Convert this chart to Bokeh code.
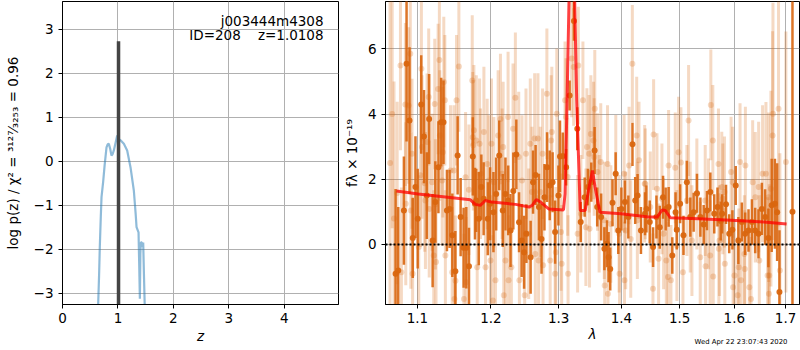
from bokeh.plotting import figure
from bokeh.layouts import row
from bokeh.models import Range1d, FixedTicker, PrintfTickFormatter, Label, Span, Title
from bokeh.embed import file_html
from bokeh.resources import INLINE

# ---------------- left panel: p(z) ----------------
z_grid = [0.640, 0.660, 0.673, 0.690, 0.704, 0.734, 0.760, 0.794, 0.815, 0.836,
          0.860, 0.884, 0.905, 0.926, 0.955, 0.987, 1.015, 1.047, 1.107, 1.167,
          1.227, 1.287, 1.320, 1.336, 1.372, 1.385, 1.396, 1.405, 1.414, 1.430,
          1.440, 1.456, 1.470, 1.486]
log_pz = [-3.40, -2.60, -1.96, -1.30, -0.82, -0.47, -0.10, 0.31, 0.38, 0.39,
          0.28, 0.125, 0.16, 0.24, 0.40, 0.58, 0.50, 0.47, 0.39, 0.24,
          -0.14, -0.67, -1.20, -1.50, -1.62, -2.40, -3.13, -2.10, -1.85, -1.85,
          -1.95, -1.85, -2.60, -3.40]
z_best = 1.0108
z_best_top = 2.72
z_ticks = [0, 1, 2, 3, 4]
logp_ticks = [-3, -2, -1, 0, 1, 2, 3]

# ---------------- right panel: spectrum ----------------
wave_light = [1.0650, 1.0677, 1.0700, 1.0740, 1.0782, 1.0794, 1.0845, 1.0850, 1.0887, 1.0908,
              1.0915, 1.0930, 1.0938, 1.1018, 1.1039, 1.1052, 1.1061, 1.1096, 1.1105, 1.1127,
              1.1148, 1.1155, 1.1193, 1.1215, 1.1228, 1.1237, 1.1245, 1.1273, 1.1290, 1.1296,
              1.1327, 1.1336, 1.1349, 1.1363, 1.1370, 1.1439, 1.1462, 1.1485, 1.1492, 1.1507,
              1.1521, 1.1553, 1.1622, 1.1645, 1.1652, 1.1691, 1.1737, 1.1744, 1.1751,
              1.1760, 1.1793, 1.1806, 1.1839, 1.1853, 1.1900, 1.1923, 1.1946, 1.1970, 1.1993,
              1.2007, 1.2027, 1.2041, 1.2064, 1.2102, 1.2135, 1.2159, 1.2174, 1.2183, 1.2207,
              1.2245, 1.2252, 1.2293, 1.2317, 1.2351, 1.2400, 1.2410, 1.2448, 1.2488, 1.2507,
              1.2547, 1.2571, 1.2596, 1.2636, 1.2646, 1.2685, 1.2695, 1.2720, 1.2755, 1.2762,
              1.2820, 1.2870, 1.2885, 1.2895, 1.2946, 1.2956, 1.2971,
              1.3036, 1.3046, 1.3098, 1.3113, 1.3139, 1.3145, 1.3201, 1.3232, 1.3294, 1.3305,
              1.3346, 1.3378, 1.3425, 1.3441, 1.3477, 1.3483, 1.3504, 1.3546, 1.3557, 1.3567,
              1.3610, 1.3637, 1.3663, 1.3720, 1.3727, 1.3773, 1.3780, 1.3827, 1.3908, 1.3962,
              1.3970, 1.4045, 1.4052, 1.4072, 1.4128, 1.4156, 1.4183, 1.4256, 1.4267, 1.4295,
              1.4391,
              1.4402, 1.4487, 1.4533, 1.4544, 1.4602, 1.4630, 1.4688, 1.4717, 1.4764, 1.4793,
              1.4804, 1.4845, 1.4921, 1.4950, 1.4980, 1.5021, 1.5057, 1.5128, 1.5158, 1.5188,
              1.5218, 1.5307, 1.5368, 1.5459, 1.5466, 1.5520, 1.5550, 1.5562, 1.5599, 1.5606,
              1.5703, 1.5710, 1.5722, 1.5765,
              1.5784, 1.5815, 1.5822, 1.5939, 1.5970, 1.5977, 1.6002, 1.6065, 1.6084, 1.6109,
              1.6128, 1.6192, 1.6199, 1.6211, 1.6287, 1.6319, 1.6351, 1.6402, 1.6467, 1.6480,
              1.6544, 1.6610, 1.6642, 1.6662, 1.6669, 1.6675, 1.6708, 1.6741, 1.6748, 1.6859,
              1.6886, 1.7006]
flux_light = [2.50, 4.00, 0.80, 1.58, 5.49, -0.85, 4.29, 1.25, 4.26, 5.85,
              1.04, 2.78, -0.90, -0.08, 2.12, 5.39, 2.99, 1.88, 1.35, 3.14,
              4.52, 1.09, 1.91, -0.34, 4.31, 1.23, -0.54, 4.77, 5.66, 3.34,
              1.96, 2.83, 4.98, 4.42, -0.34, 2.27, -0.85, 2.27, -1.67, -1.11,
              4.42, 5.46, -1.67, 2.06, -1.16, 1.68, 5.03, 3.29, 3.04,
              3.50, 3.19, -0.70, 3.09, 2.17, 3.45, -0.70, 2.47, 1.96, -0.49,
              3.09, -1.72, 1.91, -1.10, 3.34, 3.85, 2.17, 2.99, -1.56, -0.49,
              3.91, -1.10, -0.70, 3.55, 4.50, 2.68, -1.10, 1.96, -1.56, 2.78,
              0.33, 3.09, 1.61, 3.25, -0.29, 3.25, -0.49, 1.61, 2.78, -0.64,
              4.62, -0.49, 3.19, 3.45, -0.90, -0.24, 4.01,
              0.38, -0.59, 4.42, 3.91, 2.07, -0.90, 5.70, 5.44, 0.33, 5.49,
              0.94, 4.42, 0.53, 2.99, 2.78, 0.48, 3.39, 3.19, 2.68, 4.16,
              2.22, 0.94, 2.53, 0.74, -1.26, 2.47, -1.51, 0.63, 2.17, 0.33,
              -0.90, 2.17, -1.10, 0.43, 2.42, 0.17, 5.54, 3.34, 0.74, 2.58,
              1.86,
              1.86, 1.15, -1.36, 3.37, 1.71, -0.44, 1.40, 0.33, -0.49, -1.00,
              2.42, -1.10, 2.35, -0.03, 2.83, 2.51, -0.85, 1.35, 3.80, 0.84,
              0.12, 1.55, -0.39, 1.35, -0.67, 0.94, -0.34, 4.28, 3.19, -0.98,
              2.47, -0.13, 0.12, 1.76,
              1.40, 1.61, -0.59, 2.22, 1.91, -1.31, -0.95, -1.56, -0.70, 2.53,
              -1.10, -0.29, -0.75, 2.42, -1.31, -1.67, 1.91, 1.45, 1.76, -0.49,
              2.17, 2.17, -0.95, 1.45, -1.51, -0.95, 1.71, 3.34, 4.01, 4.16,
              -0.80, 2.53]
err_light = [5.0, 3.5, 4.2, 2.8, 2.6, 2.6, 2.5, 2.5, 2.4, 2.4,
             2.4, 2.3, 2.3, 2.2, 2.2, 2.2, 2.2, 2.1, 2.1, 2.1,
             2.1, 2.1, 2.1, 2.0, 2.0, 2.0, 2.0, 2.0, 2.0, 2.0,
             2.0, 2.0, 2.0, 2.0, 2.0, 2.0, 2.0, 2.0, 2.0, 2.0,
             2.0, 2.0, 2.0, 2.0, 2.0, 2.0, 2.0, 2.0, 2.0,
             2.0, 2.0, 2.0, 2.0, 2.0, 2.0, 2.0, 2.0, 2.0, 2.0,
             2.0, 2.0, 2.0, 2.0, 2.0, 2.0, 2.0, 2.0, 2.0, 2.0,
             2.0, 2.0, 2.0, 2.0, 2.0, 2.0, 2.0, 2.0, 2.0, 2.0,
             2.0, 2.0, 2.0, 2.0, 2.0, 2.0, 2.0, 2.0, 2.0, 2.0,
             2.0, 2.0, 2.0, 2.0, 2.0, 2.0, 2.0,
             1.8, 1.8, 1.8, 1.8, 1.8, 1.8, 1.8, 1.8, 1.8, 1.8,
             1.8, 1.8, 1.8, 1.8, 1.8, 1.8, 1.8, 1.8, 1.8, 1.8,
             1.8, 1.8, 1.8, 1.8, 1.8, 1.8, 1.8, 1.8, 1.8, 1.8,
             1.8, 1.8, 1.8, 1.8, 1.8, 1.8, 1.8, 1.8, 1.8, 1.8,
             1.8,
             1.7, 1.7, 1.7, 1.7, 1.7, 1.7, 1.7, 1.7, 1.7, 1.7,
             1.7, 1.7, 1.7, 1.7, 1.7, 1.7, 1.7, 1.7, 1.7, 1.7,
             1.7, 1.7, 1.7, 1.7, 1.7, 1.7, 1.7, 1.7, 1.7, 1.7,
             1.7, 1.7, 1.7, 1.7,
             1.7, 1.7, 1.7, 1.7, 1.7, 1.7, 1.7, 1.8, 1.8, 1.8,
             1.8, 1.8, 1.8, 1.8, 1.9, 1.9, 1.9, 2.0, 2.0, 2.0,
             2.1, 2.2, 2.4, 2.6, 2.6, 2.8, 3.0, 3.2, 3.4, 3.6,
             3.6, 4.0]

wave_dark = [1.0720, 1.0754, 1.0826, 1.0860, 1.0898, 1.0940, 1.0975, 1.1004, 1.1050, 1.1086,
             1.1123, 1.1154, 1.1200, 1.1236, 1.1277, 1.1314, 1.1345, 1.1391, 1.1427, 1.1464,
             1.1505, 1.1536, 1.1577, 1.1618, 1.1655, 1.1692, 1.1745, 1.1775, 1.1792, 1.1828,
             1.1864, 1.1896, 1.1955, 1.1987, 1.2035, 1.2074, 1.2118, 1.2168, 1.2207, 1.2247,
             1.2281, 1.2321, 1.2365, 1.2405, 1.2443, 1.2479, 1.2513, 1.2576, 1.2612, 1.2650,
             1.2700, 1.2739, 1.2783, 1.2823, 1.2863, 1.2907, 1.2945, 1.2996, 1.3020, 1.3063,
             1.3115, 1.3169, 1.3237, 1.3289, 1.3343, 1.3406, 1.3458, 1.3511, 1.3564, 1.3606,
             1.3669, 1.3722, 1.3764, 1.3790, 1.3817, 1.3854, 1.3906, 1.3949, 1.4000, 1.4059,
             1.4116, 1.4185, 1.4231, 1.4271, 1.4328, 1.4397, 1.4421, 1.4478, 1.4535, 1.4593,
             1.4650, 1.4707, 1.4753, 1.4805, 1.4869, 1.4926, 1.4948, 1.5007, 1.5067, 1.5127,
             1.5189, 1.5249, 1.5309, 1.5371, 1.5431, 1.5491, 1.5553, 1.5625, 1.5685, 1.5745,
             1.5771, 1.5844, 1.5904, 1.5964, 1.6027, 1.6077, 1.6143, 1.6207, 1.6271, 1.6337,
             1.6400, 1.6464, 1.6530, 1.6594, 1.6658, 1.6723, 1.6787, 1.6831, 1.6877, 1.7139]
flux_dark = [-0.90, -0.80, 1.04, 5.54, 3.80, 0.20, 1.76, 0.79, 4.29, 3.31,
             1.50, 3.85, 0.12, 1.30, 2.37, 3.75, 3.75, 1.04, 1.09, 0.28,
             -0.82, 2.73, 0.84, -0.10, -0.10, -0.67, 2.70, 1.25, 1.35, 0.79,
             1.76, 1.40, 0.79, 1.25, 0.99, 1.55, 2.73, 1.04, 1.55, 1.35,
             0.43, 1.64, 2.76, 0.68, 0.12, -0.24, 0.33, -0.39, 1.91, 2.13,
             1.15, 0.17, 1.45, 2.37, 1.81, 1.91, 0.38, 1.50, 2.70, 2.71,
             2.37, 4.57, 6.85, 3.55, 0.69, 1.45, 1.76, 1.91, 2.88, 1.15,
             0.84, -0.13, 0.02, -0.39, -0.75, 1.28, 2.17, 0.43, 1.09, 1.30,
             0.84, 3.07, 1.35, 1.50, 0.43, 0.94, 1.09, 0.69, -0.08, 0.84,
             0.53, 1.45, 1.09, 1.15, -0.34, 0.99, 0.45, 1.25, 0.28, 1.91,
             0.84, 0.99, 1.57, 0.84, 0.61, 1.04, 1.61, 0.94, 1.15, 0.72,
             0.94, 1.23, 0.33, 0.45, 1.81, 0.12, 0.69, 0.33, 0.43, 0.69,
             0.43, 0.33, 1.09, 0.84, 0.20, 1.20, 1.25, 0.99, -1.46, 1.00]
err_dark = [2.60, 1.95, 1.66, 2.38, 2.25, 1.23, 1.56, 1.53, 1.51, 1.43,
            1.33, 1.38, 1.43, 1.25, 1.41, 1.36, 1.28, 1.25, 1.20, 1.28,
            1.23, 1.20, 1.20, 1.23, 1.25, 1.18, 1.20, 1.10, 0.97, 1.43,
            1.00, 1.12, 1.12, 1.12, 1.23, 1.12, 1.07, 1.12, 1.12, 1.07,
            1.12, 1.18, 1.07, 0.92, 1.12, 1.12, 0.90, 1.12, 0.97, 0.92,
            1.02, 1.07, 1.02, 1.07, 1.07, 0.92, 0.97, 0.92, 1.10, 0.72,
            0.56, 0.46, 0.60, 0.66, 0.61, 0.60, 0.56, 0.60, 0.72, 0.60,
            0.72, 0.66, 0.72, 0.77, 0.66, 0.72, 0.66, 0.72, 0.66, 0.66,
            0.66, 0.66, 0.72, 0.66, 0.72, 0.66, 0.72, 0.66, 0.61, 0.66,
            0.66, 0.66, 0.66, 0.61, 0.56, 0.61, 0.60, 0.60, 0.60, 0.66,
            0.60, 0.60, 0.60, 0.60, 0.60, 0.60, 0.60, 0.60, 0.60, 0.60,
            0.60, 0.60, 0.60, 0.60, 0.60, 0.72, 0.60, 0.65, 0.65, 0.70,
            0.70, 0.75, 0.80, 0.85, 0.90, 1.43, 1.38, 1.50, 1.90, 30.0]

wave_model = [1.0730, 1.1010, 1.1712, 1.1780, 1.1850, 1.1920, 1.2010, 1.2355, 1.2553, 1.2600,
              1.2660, 1.2724, 1.2848, 1.3074, 1.3098, 1.3124, 1.3160, 1.3205, 1.3248, 1.3280,
              1.3335, 1.3413, 1.3476, 1.3530, 1.3571, 1.3650, 1.3995, 1.4460, 1.4605, 1.4692,
              1.4748, 1.4835, 1.5335, 1.5940, 1.6570, 1.7020]
flux_model = [1.64, 1.55, 1.37, 1.23, 1.20, 1.35, 1.30, 1.23, 1.15, 1.20,
              1.38, 1.30, 1.09, 1.06, 1.55, 3.90, 7.50, 11.0, 7.50, 4.40,
              1.04, 1.04, 1.76, 2.27, 1.76, 0.99, 0.94, 0.84, 0.84, 1.06,
              1.04, 0.82, 0.79, 0.74, 0.69, 0.63]
wave_ticks = [1.1, 1.2, 1.3, 1.4, 1.5, 1.6, 1.7]
flux_ticks = [0, 2, 4, 6]

FONT = "DejaVu Sans"
FS = "13.5px"
GRID = "#b0b0b0"
ORANGE = "#d9660f"


def style(p):
    p.outline_line_color = "black"
    p.outline_line_width = 1
    p.outline_line_alpha = 1
    for ax in (p.xaxis[0], p.yaxis[0]):
        ax.axis_line_color = "black"
        ax.major_tick_line_color = "black"
        ax.major_tick_out = 4
        ax.major_tick_in = 0
        ax.minor_tick_out = 0
        ax.minor_tick_in = 0
        ax.major_label_text_font = FONT
        ax.major_label_text_font_size = FS
        ax.major_label_text_color = "black"
        ax.axis_label_text_font = FONT
        ax.axis_label_text_font_size = FS
        ax.axis_label_text_color = "black"
        ax.axis_label_text_font_style = "normal"
    p.xgrid.grid_line_color = GRID
    p.ygrid.grid_line_color = GRID
    p.xgrid.grid_line_width = 1
    p.ygrid.grid_line_width = 1


# ---- left figure ----
p1 = figure(width=340, height=350, output_backend="svg", toolbar_location=None,
            x_range=Range1d(0, 4.98), y_range=Range1d(-3.26, 3.625),
            min_border_left=62, min_border_right=2, min_border_top=1, min_border_bottom=46)
style(p1)
p1.xaxis.ticker = FixedTicker(ticks=z_ticks)
p1.yaxis.ticker = FixedTicker(ticks=logp_ticks)
p1.xgrid.ticker = FixedTicker(ticks=z_ticks)
p1.ygrid.ticker = FixedTicker(ticks=logp_ticks)
p1.xaxis.axis_label = "z"
p1.xaxis.axis_label_text_font_style = "italic"
p1.xaxis.axis_label_standoff = 2
p1.xaxis.major_label_standoff = 4
p1.yaxis.axis_label = "log p(z) / χ² = ³¹²⁷⁄₃₂₅₃ = 0.96"
p1.yaxis.axis_label_standoff = 10
p1.yaxis.major_label_standoff = 5

p1.line(z_grid, log_pz, line_color="#1f77b4", line_alpha=0.5, line_width=2.2)
p1.segment(x0=[z_best], y0=[-3.6], x1=[z_best], y1=[z_best_top],
           line_color="#444444", line_width=3.5)
p1.add_layout(Label(x=4.71, y=3.19, text="j003444m4308", text_align="right",
                    text_baseline="middle", text_font=FONT, text_font_size=FS,
                    text_color="black"))
p1.add_layout(Label(x=4.71, y=2.86, text="ID=208\u00a0\u00a0\u00a0\u00a0z=1.0108", text_align="right",
                    text_baseline="middle", text_font=FONT, text_font_size=FS,
                    text_color="black"))

# ---- right figure ----
p2 = figure(width=460, height=350, output_backend="svg", toolbar_location=None,
            x_axis_type="log",
            x_range=Range1d(1.0593, 1.7282), y_range=Range1d(-1.84, 7.45),
            min_border_left=44, min_border_right=1, min_border_top=1, min_border_bottom=46)
style(p2)
p2.xaxis.ticker = FixedTicker(ticks=wave_ticks, minor_ticks=[])
p2.xaxis.formatter = PrintfTickFormatter(format="%.1f")
p2.yaxis.ticker = FixedTicker(ticks=flux_ticks)
p2.xgrid.ticker = FixedTicker(ticks=wave_ticks, minor_ticks=[])
p2.ygrid.ticker = FixedTicker(ticks=flux_ticks)
p2.xaxis.axis_label = "λ"
p2.xaxis.axis_label_text_font_style = "italic"
p2.xaxis.axis_label_standoff = 0
p2.xaxis.major_label_standoff = 4
p2.yaxis.axis_label = "fλ × 10⁻¹⁹"
p2.yaxis.axis_label_standoff = 5
p2.yaxis.major_label_standoff = 5

lo_l = [f - e for f, e in zip(flux_light, err_light)]
hi_l = [f + e for f, e in zip(flux_light, err_light)]
lo_d = [f - e for f, e in zip(flux_dark, err_dark)]
hi_d = [f + e for f, e in zip(flux_dark, err_dark)]

p2.segment(x0=wave_light, y0=lo_l, x1=wave_light, y1=hi_l,
           line_color=ORANGE, line_alpha=0.25, line_width=3)
p2.scatter(wave_light, flux_light, size=6, fill_color=ORANGE, fill_alpha=0.25,
           line_color=None)
p2.segment(x0=wave_dark, y0=lo_d, x1=wave_dark, y1=hi_d,
           line_color=ORANGE, line_alpha=0.9, line_width=2.5)
p2.scatter(wave_dark, flux_dark, size=6, fill_color=ORANGE, fill_alpha=0.95,
           line_color=None)
p2.line(wave_model, flux_model, line_color="red", line_alpha=0.75, line_width=3)
p2.add_layout(Span(location=0, dimension="width", line_color="black",
                   line_dash="2 2", line_width=1.8, level="overlay"))
p2.add_layout(Title(text="Wed Apr 22 23:07:43 2020", align="right", text_font=FONT,
                    text_font_size="6.9px", text_font_style="normal", text_color="black",
                    standoff=-14, offset=12, vertical_align="top"), "below")

layout = row(p1, p2, spacing=0)
open("out.html", "w").write(file_html(layout, INLINE))
